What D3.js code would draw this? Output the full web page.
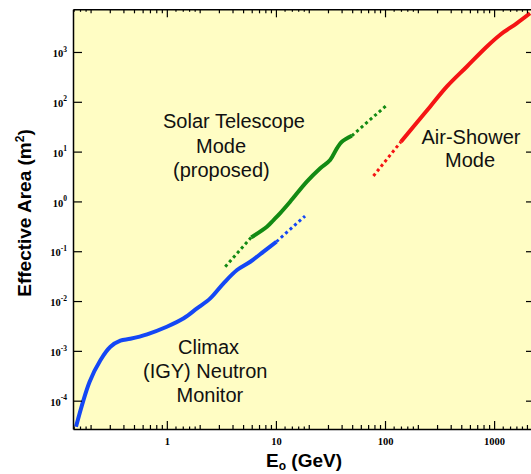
<!DOCTYPE html>
<html>
<head>
<meta charset="utf-8">
<script src="https://cdn.jsdelivr.net/npm/d3@7"></script>
<style>
  body { margin: 0; background: #fff; }
</style>
</head>
<body>
<script>
// Climax (IGY) neutron monitor
const neutronE = [0.147, 0.196, 0.246, 0.304, 0.375, 0.463, 0.659, 1.0, 1.43, 1.89, 2.50, 3.31, 4.40, 5.82, 7.70, 10.1];
const neutronA = [3.0e-5, 2.4e-4, 6.5e-4, 1.21e-3, 1.6e-3, 1.75e-3, 2.15e-3, 3.05e-3, 4.5e-3, 7.1e-3, 1.13e-2, 2.27e-2, 4.2e-2, 6.15e-2, 9.8e-2, 0.155];
const neutronExtE = [10.1, 18.5];
const neutronExtA = [0.155, 0.509];

// Solar telescope mode (proposed)
const solarE = [5.94, 8.27, 9.51, 10.9, 13.5, 19.2, 25.5, 31.4, 36.2, 40.2, 49.6];
const solarA = [0.190, 0.310, 0.423, 0.577, 0.986, 2.49, 4.62, 6.78, 11.6, 15.8, 20.8];
const solarLowE = [3.43, 5.94];
const solarLowA = [0.0489, 0.190];
const solarHighE = [49.6, 104];
const solarHighA = [20.8, 86.1];

// Air-shower mode
const showerE = [140, 182, 259, 368, 561, 855, 1131, 1611, 2133];
const showerA = [15.8, 31.6, 79.7, 201, 506, 1276, 2193, 3767, 5975];
const showerLowE = [78.3, 140];
const showerLowA = [3.24, 15.8];

const xTicks = [1, 10, 100, 1000];
const yTicks = [1e-4, 1e-3, 1e-2, 1e-1, 1, 10, 100, 1000];
const yExponents = [-4, -3, -2, -1, 0, 1, 2, 3];

const width = 531;
const height = 474;
const marginTop = 9.3;
const marginRight = -1;
const marginBottom = 45;
const marginLeft = 73;

const x = d3.scaleLog()
    .domain([0.138, 2225])
    .range([marginLeft, width - marginRight]);

const y = d3.scaleLog()
    .domain([2.7e-5, 7190])
    .range([height - marginBottom, marginTop]);

const svg = d3.select("body")
  .append("svg")
    .attr("width", width)
    .attr("height", height)
    .attr("viewBox", [0, 0, width, height]);

svg.append("rect")
    .attr("x", marginLeft)
    .attr("y", marginTop)
    .attr("width", width - marginRight - marginLeft)
    .attr("height", height - marginBottom - marginTop)
    .attr("fill", "#fffdc4");

svg.append("clipPath")
    .attr("id", "clip")
  .append("rect")
    .attr("x", marginLeft)
    .attr("y", marginTop)
    .attr("width", width - marginRight - marginLeft)
    .attr("height", height - marginBottom - marginTop);

// minor ticks on x: 2..9 per decade, plus small ones at 1.2..1.8
const minorX = [], subX = [];
for (const d of [0.1, 1, 10, 100, 1000]) {
  for (const k of [2, 3, 4, 5, 6, 7, 8, 9]) minorX.push(d * k);
  for (const k of [1.2, 1.4, 1.6, 1.8]) subX.push(d * k);
}
const inX = v => v >= x.domain()[0] && v <= x.domain()[1];

const line = d3.line()
    .x(d => x(d[0]))
    .y(d => y(d[1]))
    .curve(d3.curveCatmullRom.alpha(0.5));

const curves = [
  {E: neutronE, A: neutronA, color: "#1447f5", dotted: false},
  {E: neutronExtE, A: neutronExtA, color: "#1447f5", dotted: true},
  {E: solarLowE, A: solarLowA, color: "#138a13", dotted: true},
  {E: solarE, A: solarA, color: "#138a13", dotted: false},
  {E: solarHighE, A: solarHighA, color: "#138a13", dotted: true},
  {E: showerLowE, A: showerLowA, color: "#f51414", dotted: true},
  {E: showerE, A: showerA, color: "#f51414", dotted: false}
];

svg.append("g")
    .attr("clip-path", "url(#clip)")
  .selectAll("path")
  .data(curves)
  .join("path")
    .attr("fill", "none")
    .attr("stroke", d => d.color)
    .attr("stroke-width", d => d.dotted ? 3 : 4)
    .attr("stroke-dasharray", d => d.dotted ? "3 3" : null)
    .attr("d", d => line(d.E.map((e, i) => [e, d.A[i]])));

const styleAxis = g => {
  g.select(".domain").attr("stroke", "#000").attr("stroke-width", 1.5);
  g.selectAll(".tick line").attr("stroke", "#000").attr("stroke-width", 1.2);
};

// X Axis (bottom)
svg.append("g")
    .attr("transform", `translate(0,${height - marginBottom})`)
    .call(d3.axisBottom(x).tickValues(xTicks).tickSize(-8).tickSizeOuter(0)
      .tickPadding(9).tickFormat(d3.format("d")))
    .call(styleAxis)
    .call(g => g.selectAll(".tick text")
      .attr("fill", "#000")
      .attr("font-family", "'Liberation Serif', 'Times New Roman', serif")
      .attr("font-weight", "bold")
      .attr("font-size", 10.5));

svg.append("g")
    .attr("transform", `translate(0,${height - marginBottom})`)
    .call(d3.axisBottom(x).tickValues(minorX.filter(inX)).tickSize(-4).tickFormat(""))
    .call(styleAxis)
    .call(g => g.select(".domain").remove());

svg.append("g")
    .attr("transform", `translate(0,${height - marginBottom})`)
    .call(d3.axisBottom(x).tickValues(subX.filter(inX)).tickSize(-2.5).tickFormat(""))
    .call(styleAxis)
    .call(g => g.select(".domain").remove());

// X Axis (top)
svg.append("g")
    .attr("transform", `translate(0,${marginTop})`)
    .call(d3.axisTop(x).tickValues(xTicks).tickSize(-8).tickSizeOuter(0).tickFormat(""))
    .call(styleAxis);

svg.append("g")
    .attr("transform", `translate(0,${marginTop})`)
    .call(d3.axisTop(x).tickValues(minorX.filter(inX)).tickSize(-4).tickFormat(""))
    .call(styleAxis)
    .call(g => g.select(".domain").remove());

svg.append("g")
    .attr("transform", `translate(0,${marginTop})`)
    .call(d3.axisTop(x).tickValues(subX.filter(inX)).tickSize(-2.5).tickFormat(""))
    .call(styleAxis)
    .call(g => g.select(".domain").remove());

// Y Axis (left)
const yAxis = svg.append("g")
    .attr("transform", `translate(${marginLeft},0)`)
    .call(d3.axisLeft(y).tickValues(yTicks).tickSize(-9).tickSizeOuter(0).tickFormat(""))
    .call(styleAxis);

yAxis.selectAll(".tick")
  .append("text")
    .attr("x", -6)
    .attr("y", 4.7)
    .attr("text-anchor", "end")
    .attr("fill", "#000")
    .attr("font-family", "'Liberation Serif', 'Times New Roman', serif")
    .attr("font-weight", "bold")
    .attr("font-size", 10.5)
    .call(t => t.append("tspan").text("10"))
    .call(t => t.append("tspan")
      .attr("dy", -5.5)
      .attr("font-size", 7.5)
      .text((d, i) => yExponents[i]));

// Y Axis (right)
svg.append("g")
    .attr("transform", `translate(${width - marginRight},0)`)
    .call(d3.axisRight(y).tickValues(yTicks).tickSize(-6).tickSizeOuter(0).tickFormat(""))
    .call(styleAxis);

// X-axis Label
svg.append("text")
    .attr("text-anchor", "middle")
    .attr("x", 304)
    .attr("y", 466.5)
    .attr("font-family", "'Liberation Sans', Arial, sans-serif")
    .attr("font-weight", "bold")
    .attr("font-size", 19)
    .call(t => t.append("tspan").text("E"))
    .call(t => t.append("tspan").attr("dy", 3).attr("font-size", 12).text("o"))
    .call(t => t.append("tspan").attr("dy", -3).text(" (GeV)"));

// Y-axis Label
svg.append("text")
    .attr("text-anchor", "middle")
    .attr("transform", `translate(31,${213}) rotate(-90)`)
    .attr("font-family", "'Liberation Sans', Arial, sans-serif")
    .attr("font-weight", "bold")
    .attr("font-size", 19)
    .call(t => t.append("tspan").text("Effective Area (m"))
    .call(t => t.append("tspan").attr("dy", -7).attr("font-size", 12).text("2"))
    .call(t => t.append("tspan").attr("dy", 7).text(")"));

// Annotations
const notes = [
  {text: "Solar Telescope", x: 163, y: 128},
  {text: "Mode", x: 196, y: 153},
  {text: "(proposed)", x: 173, y: 177},
  {text: "Air-Shower", x: 421.5, y: 143.5},
  {text: "Mode", x: 445, y: 167},
  {text: "Climax", x: 178, y: 354},
  {text: "(IGY) Neutron", x: 143, y: 378},
  {text: "Monitor", x: 176.5, y: 402}
];

svg.append("g")
    .attr("font-family", "'Liberation Sans', Arial, sans-serif")
    .attr("font-size", 20)
    .attr("fill", "#111")
  .selectAll("text")
  .data(notes)
  .join("text")
    .attr("x", d => d.x)
    .attr("y", d => d.y)
    .text(d => d.text);
</script>
</body>
</html>
